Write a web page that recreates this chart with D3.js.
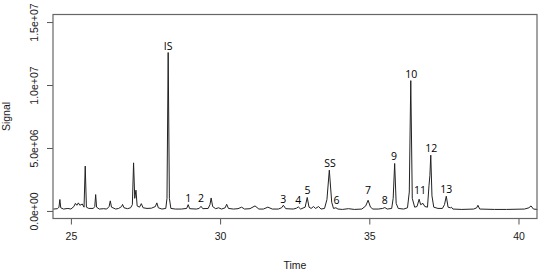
<!DOCTYPE html>
<html>
<head>
<meta charset="utf-8">
<script src="https://cdn.jsdelivr.net/npm/d3@7"></script>
<style>
  body { margin: 0; background: #fff; }
  svg { display: block; }
</style>
</head>
<body>
<div id="chart"></div>
<script>
// chromatogram trace: time (min) and signal (in units of 1e6)
var times = [
  24.41, 24.55, 24.60, 24.63, 24.66, 24.75, 24.90, 25.00, 25.10, 25.15,
  25.20, 25.25, 25.30, 25.38, 25.44, 25.48, 25.52, 25.60, 25.75, 25.80,
  25.83, 25.86, 25.95, 26.10, 26.20, 26.28, 26.32, 26.36, 26.50, 26.60,
  26.70, 26.73, 26.78, 26.90, 27.00, 27.06, 27.10, 27.14, 27.18, 27.22,
  27.30, 27.36, 27.42, 27.55, 27.70, 27.83, 27.88, 27.93, 28.05, 28.18,
  28.22, 28.26, 28.30, 28.35, 28.50, 28.70, 28.88, 28.93, 28.98, 29.20,
  29.30, 29.36, 29.42, 29.60, 29.66, 29.70, 29.75, 29.85, 29.95, 30.05,
  30.17, 30.22, 30.28, 30.45, 30.60, 30.72, 30.82, 31.00, 31.17, 31.30,
  31.45, 31.60, 31.75, 31.95, 32.06, 32.12, 32.20, 32.45, 32.56, 32.62,
  32.70, 32.85, 32.92, 32.98, 33.05, 33.13, 33.20, 33.30, 33.38, 33.50,
  33.58, 33.66, 33.74, 33.80, 33.88, 33.95, 34.10, 34.30, 34.50, 34.75,
  34.88, 34.96, 35.04, 35.12, 35.30, 35.45, 35.52, 35.60, 35.75, 35.80,
  35.85, 35.90, 35.97, 36.15, 36.28, 36.34, 36.39, 36.44, 36.52, 36.60,
  36.67, 36.72, 36.80, 36.86, 36.95, 37.00, 37.03, 37.06, 37.10, 37.16,
  37.30, 37.45, 37.52, 37.58, 37.64, 37.72, 37.75, 37.80, 38.10, 38.50,
  38.60, 38.64, 38.70, 39.20, 39.60, 40.20, 40.35, 40.42, 40.50, 40.63
];
var signal = [
  0.15, 0.18, 0.30, 0.91, 0.25, 0.15, 0.20, 0.15, 0.35, 0.60,
  0.45, 0.64, 0.45, 0.55, 0.30, 3.56, 0.30, 0.20, 0.20, 0.35,
  1.30, 0.30, 0.15, 0.18, 0.15, 0.35, 0.80, 0.30, 0.15, 0.20,
  0.35, 0.52, 0.25, 0.18, 0.25, 0.50, 3.82, 1.00, 1.65, 0.40,
  0.30, 0.58, 0.25, 0.20, 0.22, 0.35, 0.64, 0.25, 0.15, 0.20,
  1.00, 12.58, 1.00, 0.20, 0.15, 0.15, 0.20, 0.50, 0.18, 0.15,
  0.20, 0.37, 0.18, 0.20, 0.50, 1.03, 0.35, 0.18, 0.25, 0.15,
  0.25, 0.53, 0.20, 0.15, 0.18, 0.30, 0.15, 0.18, 0.40, 0.15,
  0.15, 0.30, 0.15, 0.15, 0.25, 0.45, 0.18, 0.15, 0.22, 0.32,
  0.15, 0.30, 1.07, 0.30, 0.20, 0.35, 0.20, 0.35, 0.15, 0.20,
  0.90, 3.24, 0.70, 0.20, 0.25, 0.15, 0.12, 0.18, 0.12, 0.15,
  0.40, 0.85, 0.30, 0.15, 0.15, 0.20, 0.27, 0.15, 0.20, 1.00,
  3.77, 0.60, 0.20, 0.15, 0.25, 1.50, 10.35, 1.00, 0.30, 0.35,
  0.93, 0.50, 0.60, 0.35, 0.30, 2.00, 2.80, 4.43, 1.20, 0.30,
  0.20, 0.20, 0.50, 1.17, 0.30, 0.25, 0.30, 0.15, 0.12, 0.15,
  0.25, 0.45, 0.15, 0.12, 0.12, 0.15, 0.25, 0.40, 0.15, 0.12
];

// peak annotations
var peakLabels = ["IS", "1", "2", "3", "4", "5", "SS", "6", "7", "8", "9", "10", "11", "12", "13"];
var peakTimes  = [28.26, 28.93, 29.36, 32.12, 32.62, 32.93, 33.68, 33.90, 34.96, 35.52, 35.83, 36.41, 36.70, 37.08, 37.58];
var peakTops   = [12.58, 0.50, 0.50, 0.40, 0.32, 1.07, 3.24, 0.32, 1.07, 0.32, 3.77, 10.35, 1.14, 4.43, 1.17];

var xTicks = [25, 30, 35, 40];
var yTicks = [0, 5, 10, 15];

var w = 540;
var h = 272;
var margin = {top: 14.5, right: 3, bottom: 53.5, left: 53};

var xScale = d3.scaleLinear()
                .domain([24.40, 40.62])
                .range([margin.left, w - margin.right]);

var yScale = d3.scaleLinear()
                .domain([-0.6, 15.6])
                .range([h - margin.bottom, margin.top]);

var sciFormat = function(v) {
    var s = (v * 1e6).toExponential(1);
    var parts = s.split("e");
    var exp = parseInt(parts[1], 10);
    var sign = exp < 0 ? "-" : "+";
    exp = Math.abs(exp);
    return parts[0] + "e" + sign + (exp < 10 ? "0" + exp : exp);
};

var svg = d3.select('#chart')
            .append('svg')
            .attr('width', w)
            .attr('height', h)
            .style('font-family', 'Liberation Sans, Arial, sans-serif');

var points = times.map(function(t, i) { return [t, signal[i]]; });

var line = d3.line()
             .x(function(d) { return xScale(d[0]); })
             .y(function(d) { return yScale(d[1]); });

svg.append('path')
   .datum(points)
   .attr('d', line)
   .attr('fill', 'none')
   .attr('stroke', '#222')
   .attr('stroke-width', 1)
   .attr('stroke-linejoin', 'round');

// x axis
var xAxis = svg.append('g')
    .attr('transform', 'translate(0,' + (h - margin.bottom) + ')')
    .call(d3.axisBottom(xScale).tickValues(xTicks).tickSize(6).tickSizeOuter(0).tickPadding(8).tickFormat(d3.format('d')));

// y axis
var yAxis = svg.append('g')
    .attr('transform', 'translate(' + margin.left + ',0)')
    .call(d3.axisLeft(yScale).tickValues(yTicks).tickSize(6).tickSizeOuter(0).tickFormat(sciFormat));

[xAxis, yAxis].forEach(function(g) {
    g.select('.domain').remove();
    g.selectAll('.tick line').attr('stroke', '#555');
    g.selectAll('text')
     .attr('font-family', 'Liberation Sans, Arial, sans-serif')
     .attr('font-size', '10.5px')
     .attr('fill', '#1a1a1a');
});

yAxis.selectAll('.tick text')
     .attr('transform', 'rotate(-90)')
     .attr('x', 0)
     .attr('y', -15)
     .attr('dy', 0)
     .attr('text-anchor', 'middle');

// frame
svg.append('rect')
   .attr('x', margin.left)
   .attr('y', margin.top)
   .attr('width', w - margin.left - margin.right)
   .attr('height', h - margin.top - margin.bottom)
   .attr('fill', 'none')
   .attr('stroke', '#666')
   .attr('stroke-width', 1.2);

// peak labels
svg.selectAll('text.peak')
   .data(peakLabels)
   .enter()
   .append('text')
   .attr('class', 'peak')
   .text(function(d) { return d; })
   .attr('text-anchor', 'middle')
   .attr('x', function(d, i) { return xScale(peakTimes[i]); })
   .attr('y', function(d, i) { return yScale(peakTops[i]) - 3; })
   .attr('font-family', 'Open Sans, sans-serif')
   .attr('font-size', '10.5px')
   .attr('fill', '#000');

// axis titles
svg.append('text')
   .text('Time')
   .attr('text-anchor', 'middle')
   .attr('x', (margin.left + w - margin.right) / 2)
   .attr('y', 269)
   .attr('font-size', '10.5px')
   .attr('fill', '#1a1a1a');

svg.append('text')
   .text('Signal')
   .attr('text-anchor', 'middle')
   .attr('transform', 'translate(10,' + ((margin.top + h - margin.bottom) / 2) + ') rotate(-90)')
   .attr('font-size', '10.5px')
   .attr('fill', '#1a1a1a');
</script>
</body>
</html>
